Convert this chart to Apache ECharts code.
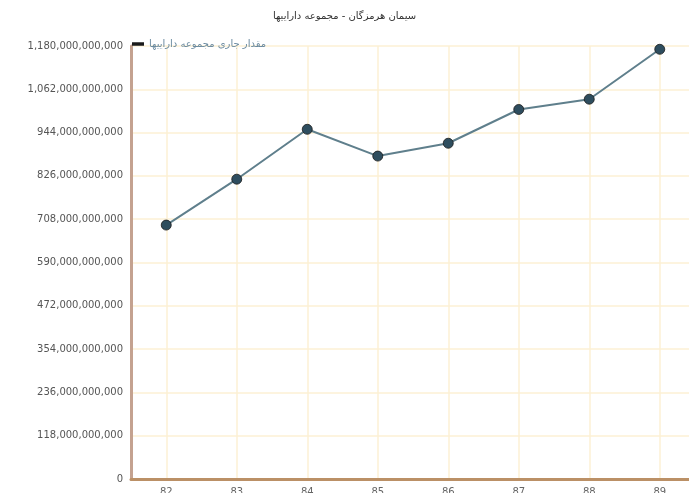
<!DOCTYPE html>
<html><head><meta charset="utf-8">
<script src="https://cdn.jsdelivr.net/npm/echarts@6/dist/echarts.min.js"></script>
<style>html,body{margin:0;padding:0;background:#fff}#c{width:689px;height:493px}</style>
</head><body><div id="c"></div>
<script>
const titleText = 'سیمان هرمزگان - مجموعه داراییها';
const seriesName = 'مقدار جاری مجموعه داراییها';
const categories = ['82', '83', '84', '85', '86', '87', '88', '89'];
const values = [692e9, 817e9, 953e9, 880e9, 915e9, 1007e9, 1035e9, 1171e9];
const yMin = 0, yMax = 1180e9, yInterval = 118e9;

const chart = echarts.init(document.getElementById('c'));
const fmt = v => Math.round(v).toString().replace(/\B(?=(\d{3})+(?!\d))/g, ',');
chart.setOption({
  animation: false,
  textStyle: { fontFamily: 'DejaVu Sans' },
  title: { text: titleText, left: 'center', top: 6,
    textStyle: { fontSize: 10, fontWeight: 'normal', color: '#333', fontFamily: 'DejaVu Sans' } },
  legend: { left: 127, top: 34, icon: 'rect', itemWidth: 10, itemHeight: 1.5, itemGap: 3,
    textStyle: { fontSize: 10, color: '#6a8aa0', padding: [0, 0, 0, 1] }, data: [seriesName] },
  grid: { left: 131, right: -6, top: 46, bottom: 14, containLabel: false, outerBoundsMode: 'none' },
  xAxis: {
    type: 'category', data: categories, boundaryGap: true,
    axisLine: { lineStyle: { color: '#bb9066', width: 3 } },
    axisTick: { alignWithLabel: true, length: 4, lineStyle: { color: '#a5744f', width: 3 } },
    axisLabel: { fontSize: 10, color: '#666', margin: 8 },
    splitLine: { show: true, alignWithLabel: true, lineStyle: { color: '#fdf0d4', width: 1.5 } }
  },
  yAxis: {
    type: 'value', min: yMin, max: yMax, interval: yInterval,
    axisLine: { show: true, lineStyle: { color: '#c4a290', width: 3 } },
    axisTick: { show: false },
    axisLabel: { fontSize: 10, color: '#555', margin: 8, formatter: fmt },
    splitLine: { show: true, lineStyle: { color: '#fdf0d4', width: 1.5 } }
  },
  series: [{
    name: seriesName, type: 'line', data: values,
    symbol: 'circle', symbolSize: 10,
    itemStyle: { color: '#2e4d5e', borderColor: '#1a1a1a', borderWidth: 0.8 },
    lineStyle: { color: '#5f7f8c', width: 2 }
  }]
});
</script></body></html>
